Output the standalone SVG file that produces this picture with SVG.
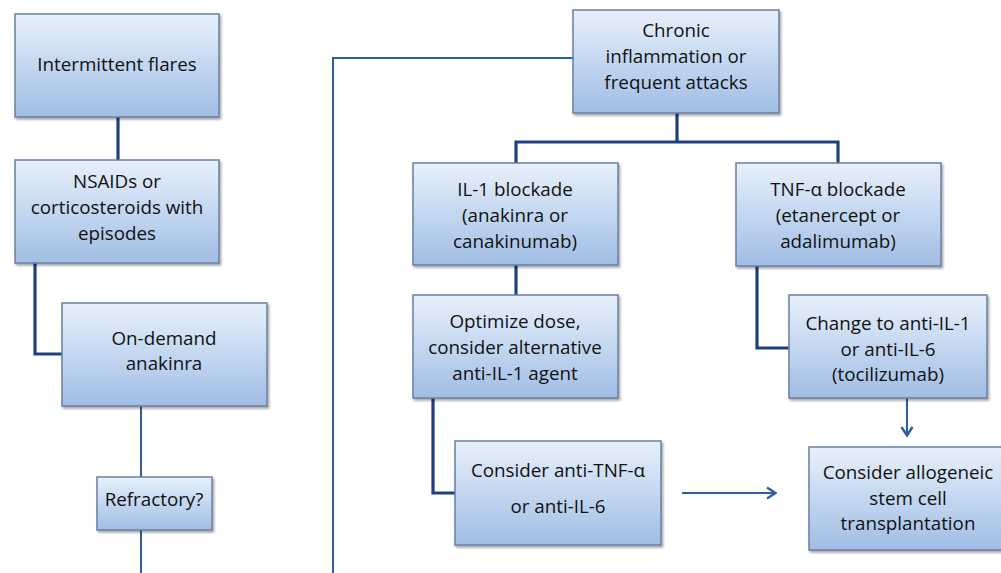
<svg xmlns="http://www.w3.org/2000/svg" width="1001" height="573" viewBox="0 0 1001 573">
<style>
.box{fill:url(#g);stroke:#6a7fa3;stroke-width:1.5;filter:url(#sh)}
.t{font-family:"Open Sans","Liberation Sans",sans-serif;font-size:18.8px;fill:#111;text-anchor:middle}
.thick{fill:none;stroke:#1f3f7e;stroke-width:3.2}
.thin{fill:none;stroke:#2f5d9e;stroke-width:2}
</style>
<defs>
<linearGradient id="g" x1="0" y1="0" x2="0" y2="1">
<stop offset="0" stop-color="#e8f1fb"/>
<stop offset="1" stop-color="#a0bde5"/>
</linearGradient>
<filter id="sh" x="-10%" y="-10%" width="130%" height="130%">
<feDropShadow dx="1.5" dy="2" stdDeviation="1.2" flood-color="#000" flood-opacity="0.35"/>
</filter>
<marker id="ah" viewBox="0 0 12 14" refX="11" refY="7" markerWidth="12" markerHeight="14" markerUnits="userSpaceOnUse" orient="auto">
<path d="M2,1.5 L10.5,7 L2,12.5" fill="none" stroke="#2f5d9e" stroke-width="2.4"/>
</marker>
</defs>
<g id="connectors">
<path class="thick" d="M118,117 V160"/>
<path class="thick" d="M35,263 V354 H62"/>
<path class="thin" d="M141,406 V477"/>
<path class="thin" d="M141,530 V573"/>
<path class="thin" d="M573,58 H333 V573"/>
<path class="thick" d="M677,113 V142 M516,163 V142 H838 V163"/>
<path class="thick" d="M516,265 V295"/>
<path class="thick" d="M433,398 V493 H455"/>
<path class="thick" d="M757,266 V348 H789"/>
<path class="thin" d="M682,493 H776" marker-end="url(#ah)"/>
<path class="thin" d="M907,398 V436" marker-end="url(#ah)"/>
</g>
<g id="n1"><rect class="box" x="15" y="14" width="204" height="103"/><text class="t" x="117" y="71">Intermittent flares</text></g>
<g id="n2"><rect class="box" x="15" y="160" width="204" height="103"/><text class="t" x="117" y="188">NSAIDs or</text><text class="t" x="117" y="214">corticosteroids with</text><text class="t" x="117" y="240">episodes</text></g>
<g id="n3"><rect class="box" x="62" y="303" width="205" height="103"/><text class="t" x="164" y="345">On-demand</text><text class="t" x="164" y="370">anakinra</text></g>
<g id="n4"><rect class="box" x="97" y="477" width="115" height="53"/><text class="t" x="154" y="506">Refractory?</text></g>
<g id="n5"><rect class="box" x="573" y="10" width="206" height="103"/><text class="t" x="676" y="37">Chronic</text><text class="t" x="676" y="63">inflammation or</text><text class="t" x="676" y="89">frequent attacks</text></g>
<g id="n6"><rect class="box" x="413" y="163" width="205" height="102"/><text class="t" x="515" y="196">IL-1 blockade</text><text class="t" x="515" y="222">(anakinra or</text><text class="t" x="515" y="248">canakinumab)</text></g>
<g id="n7"><rect class="box" x="736" y="163" width="205" height="103"/><text class="t" x="838" y="196">TNF-α blockade</text><text class="t" x="838" y="222">(etanercept or</text><text class="t" x="838" y="248">adalimumab)</text></g>
<g id="n8"><rect class="box" x="413" y="295" width="205" height="103"/><text class="t" x="515" y="328">Optimize dose,</text><text class="t" x="515" y="354">consider alternative</text><text class="t" x="515" y="380">anti-IL-1 agent</text></g>
<g id="n9"><rect class="box" x="789" y="295" width="198" height="103"/><text class="t" x="888" y="330">Change to anti-IL-1</text><text class="t" x="888" y="356">or anti-IL-6</text><text class="t" x="888" y="381">(tocilizumab)</text></g>
<g id="n10"><rect class="box" x="455" y="441" width="206" height="104"/><text class="t" x="558" y="477">Consider anti-TNF-α</text><text class="t" x="558" y="513">or anti-IL-6</text></g>
<g id="n11"><rect class="box" x="809" y="447" width="196" height="103"/><text class="t" x="908" y="479">Consider allogeneic</text><text class="t" x="908" y="505">stem cell</text><text class="t" x="908" y="530">transplantation</text></g>
</svg>
